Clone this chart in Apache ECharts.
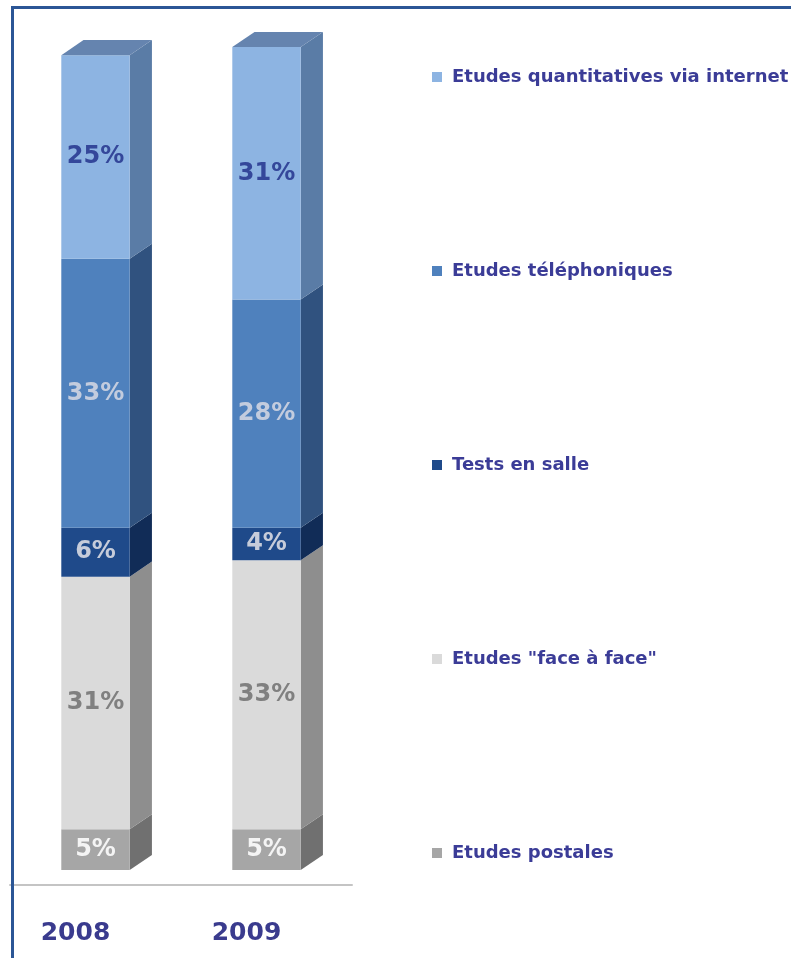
<!DOCTYPE html>
<html>
<head>
<meta charset="utf-8">
<script src="https://cdn.jsdelivr.net/npm/echarts@6/dist/echarts.min.js"></script>
<style>
  html, body { margin: 0; padding: 0; background: #ffffff; }
  #chart { width: 791px; height: 958px; }
</style>
</head>
<body>
<div id="chart"></div>
<script>
// Répartition des études par mode de recueil (%)
const years = ['2008', '2009'];
const postales = [5, 5];
const faceAFace = [31, 33];
const testsEnSalle = [6, 4];
const telephoniques = [33, 28];
const internet = [25, 31];

// Stack order, bottom to top
const layers = [
  { name: 'Etudes postales', values: postales },
  { name: 'Etudes "face à face"', values: faceAFace },
  { name: 'Tests en salle', values: testsEnSalle },
  { name: 'Etudes téléphoniques', values: telephoniques },
  { name: 'Etudes quantitatives via internet', values: internet }
];

// Face colours of each 3D block and the colour of its value label
const looks = {
  'Etudes postales': { front: '#A6A6A6', side: '#707070', top: '#8A8A8A', label: '#F4F4F4' },
  'Etudes "face à face"': { front: '#DADADA', side: '#8E8E8E', top: '#B5B5B5', label: '#808080' },
  'Tests en salle': { front: '#1F4A8A', side: '#112C57', top: '#1A3C70', label: '#C6CCDA' },
  'Etudes téléphoniques': { front: '#4F81BD', side: '#30527F', top: '#40699C', label: '#C3CCDE' },
  'Etudes quantitatives via internet': { front: '#8DB4E2', side: '#5A7CA6', top: '#6584AF', label: '#34479A' }
};

const labelFont = 'bold 24px "DejaVu Sans", sans-serif';

function makeRenderer(look, isTop) {
  return function (params, api) {
    const cat = api.value(0);
    const lo = api.coord([cat, api.value(1)]);
    const hi = api.coord([cat, api.value(2)]);
    const band = api.size([1, 0])[0];
    const fw = band * 0.40;
    const dx = band * 0.13;
    const dy = dx * 0.68;
    const x1 = lo[0] - fw / 2;
    const x2 = lo[0] + fw / 2;
    const yb = lo[1];
    const yt = hi[1];
    const children = [
      {
        type: 'polygon',
        shape: { points: [[x2, yt], [x2 + dx, yt - dy], [x2 + dx, yb - dy], [x2, yb]] },
        style: { fill: look.side }
      },
      {
        type: 'rect',
        shape: { x: x1, y: yt, width: fw, height: yb - yt },
        style: { fill: look.front }
      }
    ];
    if (isTop) {
      children.push({
        type: 'polygon',
        shape: { points: [[x1, yt], [x1 + dx, yt - dy], [x2 + dx, yt - dy], [x2, yt]] },
        style: { fill: look.top }
      });
    }
    children.push({
      type: 'text',
      style: {
        text: api.value(3) + '%',
        x: lo[0],
        y: (yt + yb) / 2,
        align: 'center',
        verticalAlign: 'middle',
        fill: look.label,
        font: labelFont
      }
    });
    return { type: 'group', children: children };
  };
}

const running = years.map(() => 0);
const series = layers.map((layer, li) => {
  const look = looks[layer.name];
  const data = layer.values.map((v, i) => {
    const base = running[i];
    running[i] += v;
    return [i, base, base + v, v];
  });
  return {
    type: 'custom',
    name: layer.name,
    renderItem: makeRenderer(look, li === layers.length - 1),
    itemStyle: { color: look.front },
    encode: { x: 0, y: [1, 2] },
    data: data
  };
});

const chart = echarts.init(document.getElementById('chart'), null, { renderer: 'canvas' });
chart.setOption({
  animation: false,
  backgroundColor: '#ffffff',
  grid: { left: 10, width: 342, top: 47, bottom: 88 },
  xAxis: {
    type: 'category',
    data: years,
    offset: 15,
    axisLine: { show: true, onZero: false, lineStyle: { color: '#C4C4C4', width: 2 } },
    axisTick: { show: false },
    axisLabel: {
      margin: 36,
      padding: [0, 40, 0, 0],
      color: '#3A3B8E',
      fontFamily: '"DejaVu Sans", sans-serif',
      fontWeight: 'bold',
      fontSize: 25
    }
  },
  yAxis: { type: 'value', min: 0, max: 101, show: false },
  legend: {
    orient: 'vertical',
    left: 427,
    top: 62,
    itemGap: 174,
    itemWidth: 10,
    itemHeight: 10,
    icon: 'rect',
    data: layers.map(l => l.name).reverse(),
    textStyle: {
      color: '#3B3C97',
      fontFamily: '"DejaVu Sans", sans-serif',
      fontWeight: 'bold',
      fontSize: 18,
      lineHeight: 20,
      padding: [0, 0, 0, 5]
    }
  },
  graphic: [{
    type: 'rect',
    silent: true,
    z: 100,
    shape: { x: 12.5, y: 7.5, width: 900, height: 1000 },
    style: { fill: 'none', stroke: '#2B5696', lineWidth: 3 }
  }],
  series: series
});
</script>
</body>
</html>
